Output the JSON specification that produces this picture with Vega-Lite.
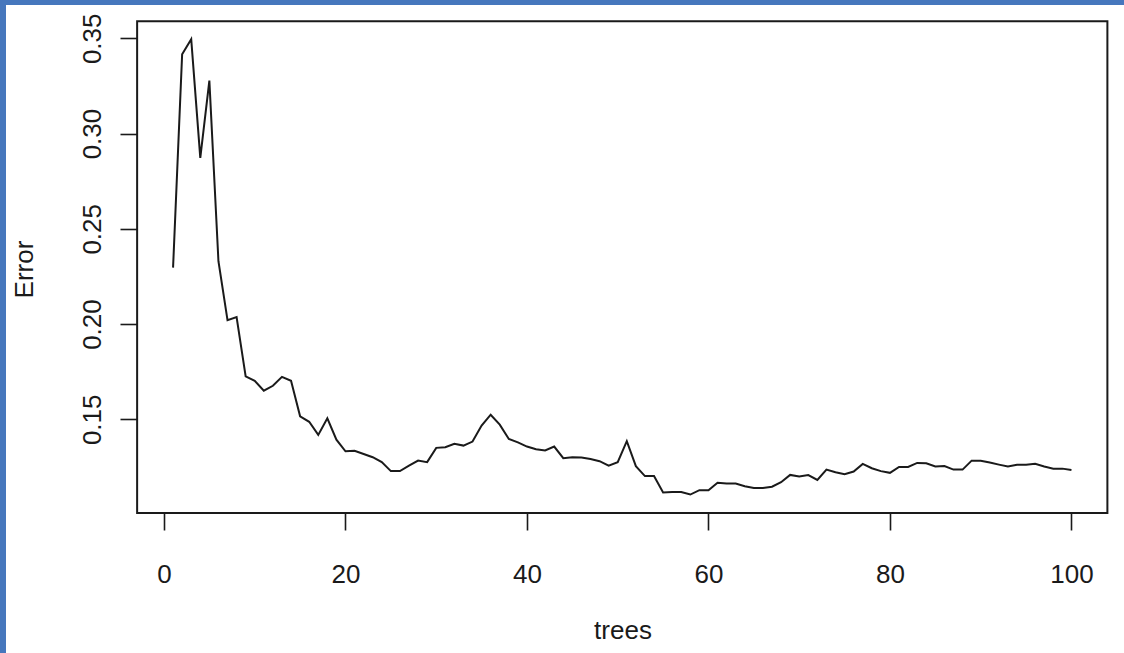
{
  "$schema": "https://vega.github.io/schema/vega-lite/v6.json",
  "width": 1118,
  "height": 648,
  "autosize": {"type": "none"},
  "padding": {"left": 6, "top": 5, "right": 0, "bottom": 0},
  "background": "#4677bd",
  "config": {"view": {"fill": "white", "stroke": null}, "font": "Liberation Sans"},
  "data": {"values": [
    {"trees": 1, "error": 0.2296}, {"trees": 2, "error": 0.3416}, {"trees": 3, "error": 0.3495}, {"trees": 4, "error": 0.2872}, {"trees": 5, "error": 0.3278},
    {"trees": 6, "error": 0.2330}, {"trees": 7, "error": 0.2020}, {"trees": 8, "error": 0.2037}, {"trees": 9, "error": 0.1725}, {"trees": 10, "error": 0.1702},
    {"trees": 11, "error": 0.1650}, {"trees": 12, "error": 0.1676}, {"trees": 13, "error": 0.1723}, {"trees": 14, "error": 0.1702}, {"trees": 15, "error": 0.1516},
    {"trees": 16, "error": 0.1487}, {"trees": 17, "error": 0.1418}, {"trees": 18, "error": 0.1505}, {"trees": 19, "error": 0.1393}, {"trees": 20, "error": 0.1332},
    {"trees": 21, "error": 0.1335}, {"trees": 22, "error": 0.1318}, {"trees": 23, "error": 0.1301}, {"trees": 24, "error": 0.1275}, {"trees": 25, "error": 0.1228},
    {"trees": 26, "error": 0.1228}, {"trees": 27, "error": 0.1257}, {"trees": 28, "error": 0.1283}, {"trees": 29, "error": 0.1275}, {"trees": 30, "error": 0.1350},
    {"trees": 31, "error": 0.1353}, {"trees": 32, "error": 0.1371}, {"trees": 33, "error": 0.1362}, {"trees": 34, "error": 0.1383}, {"trees": 35, "error": 0.1467},
    {"trees": 36, "error": 0.1524}, {"trees": 37, "error": 0.1472}, {"trees": 38, "error": 0.1397}, {"trees": 39, "error": 0.1379}, {"trees": 40, "error": 0.1357},
    {"trees": 41, "error": 0.1343}, {"trees": 42, "error": 0.1336}, {"trees": 43, "error": 0.1357}, {"trees": 44, "error": 0.1296}, {"trees": 45, "error": 0.1301},
    {"trees": 46, "error": 0.1299}, {"trees": 47, "error": 0.1292}, {"trees": 48, "error": 0.1280}, {"trees": 49, "error": 0.1257}, {"trees": 50, "error": 0.1275},
    {"trees": 51, "error": 0.1385}, {"trees": 52, "error": 0.1254}, {"trees": 53, "error": 0.1202}, {"trees": 54, "error": 0.1202}, {"trees": 55, "error": 0.1116},
    {"trees": 56, "error": 0.1118}, {"trees": 57, "error": 0.1118}, {"trees": 58, "error": 0.1105}, {"trees": 59, "error": 0.1128}, {"trees": 60, "error": 0.1128},
    {"trees": 61, "error": 0.1167}, {"trees": 62, "error": 0.1163}, {"trees": 63, "error": 0.1163}, {"trees": 64, "error": 0.1149}, {"trees": 65, "error": 0.1139},
    {"trees": 66, "error": 0.1139}, {"trees": 67, "error": 0.1146}, {"trees": 68, "error": 0.1170}, {"trees": 69, "error": 0.1208}, {"trees": 70, "error": 0.1200},
    {"trees": 71, "error": 0.1207}, {"trees": 72, "error": 0.1182}, {"trees": 73, "error": 0.1236}, {"trees": 74, "error": 0.1222}, {"trees": 75, "error": 0.1212},
    {"trees": 76, "error": 0.1226}, {"trees": 77, "error": 0.1266}, {"trees": 78, "error": 0.1243}, {"trees": 79, "error": 0.1228}, {"trees": 80, "error": 0.1219},
    {"trees": 81, "error": 0.1250}, {"trees": 82, "error": 0.1250}, {"trees": 83, "error": 0.1271}, {"trees": 84, "error": 0.1269}, {"trees": 85, "error": 0.1252},
    {"trees": 86, "error": 0.1255}, {"trees": 87, "error": 0.1236}, {"trees": 88, "error": 0.1236}, {"trees": 89, "error": 0.1283}, {"trees": 90, "error": 0.1282},
    {"trees": 91, "error": 0.1273}, {"trees": 92, "error": 0.1262}, {"trees": 93, "error": 0.1252}, {"trees": 94, "error": 0.1261}, {"trees": 95, "error": 0.1261},
    {"trees": 96, "error": 0.1266}, {"trees": 97, "error": 0.1252}, {"trees": 98, "error": 0.1241}, {"trees": 99, "error": 0.1241}, {"trees": 100, "error": 0.1234}
  ]},
  "layer": [
    {
      "data": {"values": [{}]},
      "mark": {"type": "rect", "filled": false, "color": "#1a1a1a", "strokeWidth": 2},
      "encoding": {
        "x": {"datum": -2.96, "type": "quantitative", "title": "trees"},
        "x2": {"datum": 103.96},
        "y": {"datum": 0.1008, "type": "quantitative", "title": "Error"},
        "y2": {"datum": 0.359}
      }
    },
    {
      "mark": {"type": "line", "color": "#1a1a1a", "strokeWidth": 2},
      "encoding": {
        "x": {
          "field": "trees", "type": "quantitative",
          "scale": {"domain": [-17.41, 105.79], "nice": false, "zero": false},
          "axis": {
            "orient": "bottom", "offset": -140, "values": [0, 20, 40, 60, 80, 100],
            "domain": false, "grid": false, "tickSize": 17, "tickColor": "#1a1a1a", "tickWidth": 1.6,
            "labelFontSize": 26, "labelColor": "#1a1a1a", "labelPadding": 31, "labelFont": "Liberation Sans",
            "labelFlush": false, "labelOverlap": false, "labelBound": false,
            "title": "trees", "titleFontSize": 26, "titleFontWeight": "normal", "titleColor": "#1a1a1a", "titleFont": "Liberation Sans",
            "titleX": 616.5, "titleY": 125, "titleBaseline": "alphabetic", "titleAlign": "center"
          }
        },
        "y": {
          "field": "error", "type": "quantitative",
          "scale": {"domain": [0.02732, 0.36748], "nice": false, "zero": false},
          "axis": {
            "orient": "left", "offset": -131, "values": [0.15, 0.2, 0.25, 0.3, 0.35], "format": ".2f",
            "domain": false, "grid": false, "tickSize": 17, "tickColor": "#1a1a1a", "tickWidth": 1.6,
            "labelAngle": 270, "labelAlign": "center", "labelBaseline": "alphabetic", "labelPadding": 20,
            "labelFontSize": 26, "labelColor": "#1a1a1a", "labelFont": "Liberation Sans",
            "labelFlush": false, "labelOverlap": false, "labelBound": false,
            "title": "Error", "titleAngle": 270, "titleX": -105, "titleY": 264, "titleAlign": "center", "titleBaseline": "alphabetic",
            "titleFontSize": 26, "titleFontWeight": "normal", "titleColor": "#1a1a1a", "titleFont": "Liberation Sans"
          }
        }
      }
    }
  ]
}
